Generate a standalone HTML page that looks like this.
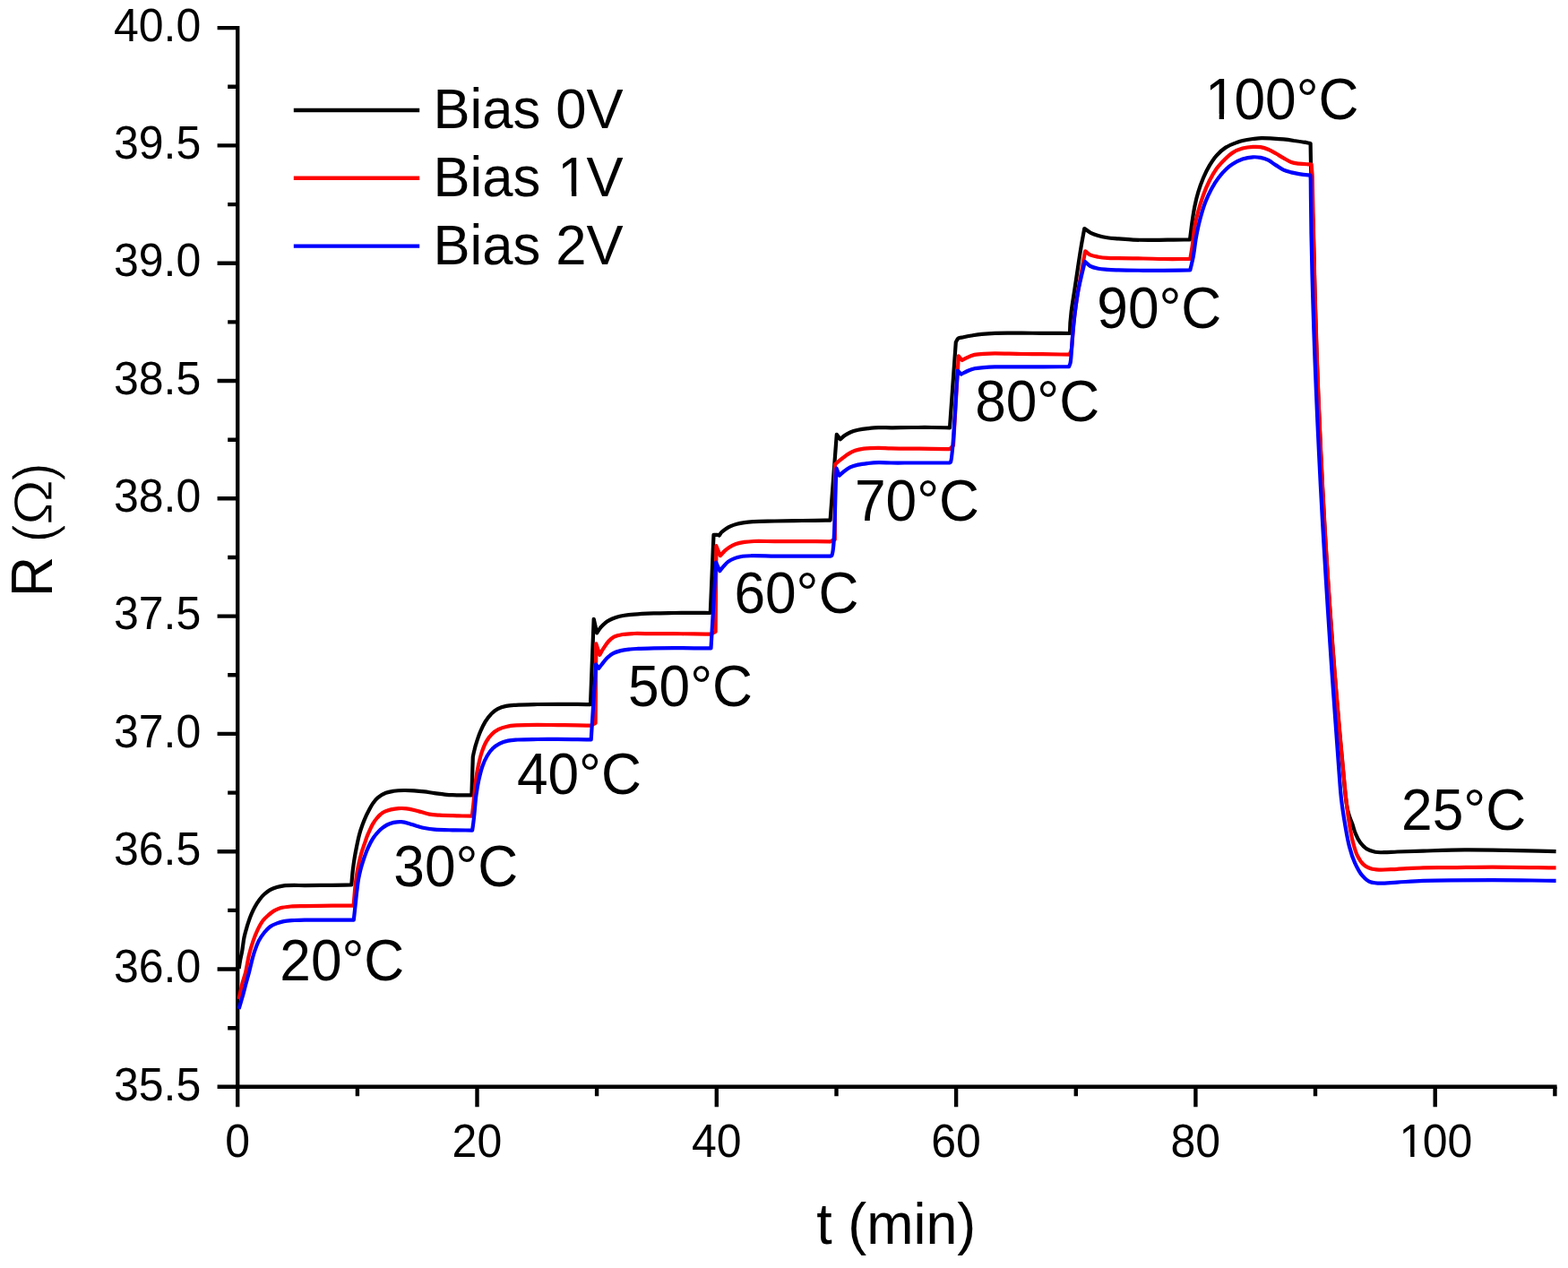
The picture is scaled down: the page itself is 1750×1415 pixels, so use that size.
<!DOCTYPE html>
<html><head><meta charset="utf-8"><title>R vs t</title>
<style>
html,body{margin:0;padding:0;background:#fff;}
body{width:1750px;height:1415px;overflow:hidden;}
svg{display:block;}
text{font-family:"Liberation Sans",Arial,Helvetica,sans-serif;fill:#000;}
</style></head>
<body>
<svg width="1750" height="1415" viewBox="0 0 1750 1415">
<rect width="1750" height="1415" fill="#fff"/>
<path d="M265.2,31.1 V1212.8 H1735.4" fill="none" stroke="#000" stroke-width="4.4" stroke-linecap="square"/>
<path d="M242.6,31.1 H265.2 M242.6,162.4 H265.2 M242.6,293.7 H265.2 M242.6,425 H265.2 M242.6,556.3 H265.2 M242.6,687.6 H265.2 M242.6,818.9 H265.2 M242.6,950.2 H265.2 M242.6,1081.5 H265.2 M242.6,1212.8 H265.2 M254.2,96.8 H265.2 M254.2,228.1 H265.2 M254.2,359.4 H265.2 M254.2,490.7 H265.2 M254.2,622 H265.2 M254.2,753.3 H265.2 M254.2,884.6 H265.2 M254.2,1015.9 H265.2 M254.2,1147.2 H265.2 M265.2,1212.8 V1235.2 M532.5,1212.8 V1235.2 M799.8,1212.8 V1235.2 M1067.1,1212.8 V1235.2 M1334.4,1212.8 V1235.2 M1601.7,1212.8 V1235.2 M398.9,1212.8 V1223.3 M666.1,1212.8 V1223.3 M933.5,1212.8 V1223.3 M1200.8,1212.8 V1223.3 M1468,1212.8 V1223.3 M1735.4,1212.8 V1223.3" fill="none" stroke="#000" stroke-width="4.4"/>
<g><text transform="translate(224.3,45.8) scale(1,1.04)" font-size="50.0" text-anchor="end">40.0</text><text transform="translate(224.3,177.1) scale(1,1.04)" font-size="50.0" text-anchor="end">39.5</text><text transform="translate(224.3,308.4) scale(1,1.04)" font-size="50.0" text-anchor="end">39.0</text><text transform="translate(224.3,439.7) scale(1,1.04)" font-size="50.0" text-anchor="end">38.5</text><text transform="translate(224.3,571) scale(1,1.04)" font-size="50.0" text-anchor="end">38.0</text><text transform="translate(224.3,702.3) scale(1,1.04)" font-size="50.0" text-anchor="end">37.5</text><text transform="translate(224.3,833.6) scale(1,1.04)" font-size="50.0" text-anchor="end">37.0</text><text transform="translate(224.3,964.9) scale(1,1.04)" font-size="50.0" text-anchor="end">36.5</text><text transform="translate(224.3,1096.2) scale(1,1.04)" font-size="50.0" text-anchor="end">36.0</text><text transform="translate(224.3,1227.5) scale(1,1.04)" font-size="50.0" text-anchor="end">35.5</text><text transform="translate(251.2,1291.2) scale(1,1.04)" font-size="50.0">0</text><text transform="translate(504.6,1291.2) scale(1,1.04)" font-size="50.0">20</text><text transform="translate(771.9,1291.2) scale(1,1.04)" font-size="50.0">40</text><text transform="translate(1039.2,1291.2) scale(1,1.04)" font-size="50.0">60</text><text transform="translate(1306.5,1291.2) scale(1,1.04)" font-size="50.0">80</text><text transform="translate(1559.9,1291.2) scale(1,1.04)" font-size="50.0"><tspan dx="1.7">1</tspan><tspan dx="-1.7">0</tspan>0</text></g>
<text transform="translate(1000.3,1387.6) scale(1,1.045)" font-size="62.8" text-anchor="middle">t (min)</text>
<g font-size="63"><text transform="translate(58.3,666.2) rotate(-90) scale(1,1.04)">R </text><text transform="translate(59.699999999999996,605.7) rotate(-90) scale(1,1.04)" style="stroke:#fff;stroke-width:1.2px">(</text><text transform="translate(58.3,586.3) rotate(-90) scale(1.096,0.975)" style="stroke:#fff;stroke-width:1.2px">&#937;</text><text transform="translate(59.699999999999996,537.1) rotate(-90) scale(1,1.04)" style="stroke:#fff;stroke-width:1.2px">)</text></g>
<g><text transform="translate(312.3,1093.5) scale(1,1.03)" font-size="62.2">20&#176;C</text><text transform="translate(439.3,988.9) scale(1,1.03)" font-size="62.2">30&#176;C</text><text transform="translate(576.9,885.8) scale(1,1.03)" font-size="62.2">40&#176;C</text><text transform="translate(701,787.5) scale(1,1.03)" font-size="62.2">50&#176;C</text><text transform="translate(819.4,684.4) scale(1,1.03)" font-size="62.2">60&#176;C</text><text transform="translate(954,580.7) scale(1,1.03)" font-size="62.2">70&#176;C</text><text transform="translate(1088.2,469.5) scale(1,1.03)" font-size="62.2">80&#176;C</text><text transform="translate(1224.3,365.8) scale(1,1.03)" font-size="62.2">90&#176;C</text><text transform="translate(1342.9,132.7) scale(1,1.03)" font-size="62.2"><tspan dx="2.1">1</tspan><tspan dx="-2.1">0</tspan>0&#176;C</text><text transform="translate(1564.1,925.5) scale(1,1.03)" font-size="62.2">25&#176;C</text></g>
<g><path d="M327.8,123 H468.2" stroke="#000" stroke-width="4.4"/><text transform="translate(483.4,142.8) scale(1,1.008)" font-size="61.6">Bias 0V</text><path d="M327.8,198.7 H468.2" stroke="#f00" stroke-width="4.4"/><text transform="translate(483.4,218.8) scale(1,1.008)" font-size="61.6">Bias <tspan dx="2">1</tspan><tspan dx="-2">V</tspan></text><path d="M327.8,274.6 H468.2" stroke="#00f" stroke-width="4.4"/><text transform="translate(483.4,294.8) scale(1,1.008)" font-size="61.6">Bias 2V</text></g>
<rect x="1564.5" y="1286.6" width="9.7" height="5.5" fill="#fff"/><rect x="1578.5" y="1286.6" width="9.3" height="5.5" fill="#fff"/><rect x="1348.6" y="127.2" width="12.1" height="6.4" fill="#fff"/><rect x="1366" y="127.2" width="11.6" height="6.4" fill="#fff"/><rect x="626" y="213.5" width="12" height="6.2" fill="#fff"/><rect x="643.3" y="213.5" width="11.5" height="6.2" fill="#fff"/>
<g transform="translate(0.4,1.0)" fill="none" stroke-width="4.2" stroke-linejoin="round" stroke-linecap="butt">
<path d="M266.2,1080 C266.7,1076.7 267.2,1073.3 267.8,1070 C268.4,1066.8 269.2,1064.1 269.8,1060.5 C270.6,1056 271.1,1049.8 272.1,1045 C273,1040.8 274,1037.2 275.2,1033.3 C276.4,1029.4 277.6,1025.4 279.1,1021.7 C280.5,1018.2 282.1,1014.7 283.8,1011.5 C285.4,1008.5 287.3,1005.5 289.2,1003 C290.9,1000.7 292.7,998.6 294.7,996.8 C296.6,995 298.6,993.4 300.9,992.1 C303.3,990.8 306.1,989.8 308.7,989 C311.2,988.2 313.5,987.7 316.4,987.3 C319.9,986.9 324.2,986.9 328.1,986.9 C332,986.9 335,987.1 339.8,987.1 C347.5,987.1 360.7,986.9 370,986.8 C377.9,986.7 384.6,986.5 391.9,986.4 C392.1,983.9 392.3,981.6 392.5,979 C392.8,976.1 393,973.1 393.4,969.8 C393.9,965.9 394.5,961.3 395.2,957 C395.9,952.7 396.7,948.4 397.6,944 C398.5,939.5 399.5,934.7 400.6,930.5 C401.6,926.6 402.8,923 404.1,919.5 C405.3,916.3 406.5,913.3 407.8,910.4 C409,907.7 410.3,905.3 411.6,902.8 C412.9,900.3 414.1,897.9 415.7,895.6 C417.3,893.3 419,891.1 421.3,889.2 C423.8,887.1 427.2,885 430.3,883.8 C433.1,882.7 435.8,882.3 438.9,881.8 C442.4,881.3 446.5,881.1 450.3,881 C454.1,880.9 457.9,881.1 461.7,881.3 C465.5,881.5 469.4,881.9 473.2,882.4 C477,882.9 480.8,883.6 484.6,884.1 C488.4,884.6 492.5,885.2 496,885.6 C499.1,885.9 501.6,886.1 504.6,886.2 C508,886.3 511.7,886.4 515.3,886.4 C518.9,886.4 522.4,886.4 526,886.4 L527.4,843.6 C527.9,841.1 528.3,838.8 529,836.2 C529.7,833.2 530.6,829.9 531.7,826.6 C532.9,822.9 534.3,818.7 535.9,815 C537.5,811.3 539.2,807.7 541.2,804.4 C543.1,801.3 545.2,798.3 547.6,795.9 C549.8,793.6 552.2,791.6 555,790.1 C557.9,788.6 561.2,787.6 564.5,786.9 C567.9,786.2 570.8,786.1 575.1,785.8 C581.5,785.4 591.3,785.2 599.2,785 C606.9,784.8 614.3,784.8 621.8,784.8 C629.3,784.8 637.7,784.8 644.4,784.9 C649.7,785 653.9,785.1 658.6,785.2 L662.3,689.8 L665.8,705.4 C667.2,703.3 668.5,700.9 670,699.1 C671.3,697.5 672.7,696.1 674.3,694.8 C675.9,693.4 677.6,692.2 679.6,691.1 C681.8,689.9 684.3,688.9 687,688 C689.9,687.1 693.2,686.4 696.5,685.8 C699.9,685.2 702.9,684.9 707.1,684.6 C713.1,684.1 721.8,683.7 729.2,683.4 C736.7,683.1 744.3,683.1 751.8,683 C759.3,682.9 767.3,682.9 774.4,682.9 C780.7,682.9 786.4,683 792.4,683 L796.1,595.9 C797.7,595.9 799.7,595.7 800.8,595.9 C801.5,596 801.8,596.4 802.3,596.6 C803.2,595.3 804,593.9 805.1,592.7 C806.3,591.5 807.8,590.5 809.3,589.5 C810.9,588.4 812.6,587.3 814.6,586.4 C816.8,585.4 819.4,584.4 822,583.7 C824.7,583 827.5,582.5 830.5,582.1 C833.8,581.6 836.9,581.4 841.1,581.1 C847.3,580.7 856.5,580.7 864.2,580.5 C871.8,580.3 879.3,580.2 886.8,580.1 C894.3,580 902.4,579.9 909.4,579.8 C915.4,579.7 920.6,579.7 926.2,579.6 L933.4,483.9 L937.5,489.2 C939,487.9 940.2,486.5 941.9,485.3 C943.8,483.9 946.1,482.6 948.5,481.5 C951.1,480.3 954.1,479.5 957.2,478.8 C960.6,478 964.5,477.5 968.2,477.1 C972.1,476.7 975.9,476.3 980,476.2 C984.5,476 988.9,476.3 994.2,476.3 C1000.9,476.3 1009.3,476 1016.8,476 C1024.3,476 1032.1,475.9 1039.4,476 C1046.3,476.1 1052.9,476.2 1059.6,476.3 L1066.4,380.8 C1067.3,379.4 1067.9,377.5 1069.2,376.6 C1070.6,375.6 1072.8,375.7 1074.9,375.2 C1077.6,374.6 1080.7,374 1083.9,373.5 C1087.4,372.9 1091.2,372.2 1095.2,371.8 C1099.8,371.3 1104.2,371 1110,370.8 C1118.3,370.5 1131.1,370.7 1140.5,370.7 C1148.6,370.7 1155,370.8 1163.1,370.8 C1172.5,370.9 1183.4,370.9 1193.6,371 C1193.7,363.1 1194.2,355.1 1195.2,347.2 C1196.2,339.2 1197.6,331.1 1198.8,323.1 C1200,315.1 1201.2,307.1 1202.4,299.1 C1203.6,291.1 1204.8,282.7 1206.1,275 C1207.3,267.8 1208.6,261 1209.9,254 C1212.4,255.7 1214.8,257.8 1217.4,259.1 C1219.9,260.4 1222.5,261.2 1225.3,262 C1228.5,262.9 1231.9,263.6 1235.5,264.2 C1239.4,264.8 1243.6,265 1248,265.4 C1253,265.8 1258.3,266.3 1264.2,266.6 C1271.1,266.9 1279.3,266.9 1286.8,266.9 C1294.3,266.9 1302.3,266.7 1309.4,266.6 C1315.8,266.5 1321.5,266.5 1327.6,266.4 C1328.5,259.6 1329.3,252.5 1330.2,246 C1331.1,240.1 1331.9,234.6 1333,229.1 C1334.1,223.7 1335.3,218.5 1336.9,213.3 C1338.5,208 1340.5,202.5 1342.6,197.5 C1344.6,192.7 1346.9,188.1 1349.4,183.9 C1351.8,179.9 1354.3,176 1357.3,172.6 C1360.3,169.2 1363.7,166 1367.5,163.6 C1371.3,161.2 1376.5,159.3 1380,158 C1382.5,157.1 1383.9,156.6 1386.4,156 C1389.7,155.2 1394.2,154.5 1397.9,154 C1401.3,153.6 1404.1,153.2 1407.6,153.1 C1411.6,153 1416.5,153.4 1420.7,153.6 C1424.6,153.8 1428.3,154 1432.1,154.4 C1435.9,154.8 1439.8,155.4 1443.6,156 C1447.4,156.5 1451.6,157.1 1455,157.7 C1457.7,158.1 1459.8,158.6 1462.2,159 L1462.6,181 C1462.9,192.3 1463.2,202.9 1463.6,215 C1464.1,229 1464.9,243.3 1465.4,260 C1466.1,280.8 1466.5,306.7 1467.1,330 C1467.8,353.3 1468.5,376.7 1469.3,400 C1470.1,423.3 1471.1,446.7 1472.1,470 C1473.1,493.3 1474.2,516.7 1475.4,540 C1476.6,563.3 1477.9,586.7 1479.3,610 C1480.7,633.3 1482.3,656.7 1483.9,680 C1485.5,703.3 1487.3,726.7 1489.1,750 C1491,773.3 1493.2,799.9 1495,820 C1496.3,835.2 1497.5,847.7 1498.7,860 C1499.7,870.6 1500.6,881.8 1501.6,889.7 C1502.3,895 1502.8,899.1 1503.7,903 C1504.4,906 1505.1,908.3 1506,911 C1506.9,913.8 1508.2,916.4 1509.2,919.3 C1510.3,922.4 1511,926 1512.4,929.2 C1513.8,932.6 1515.5,936.2 1517.6,939.1 C1519.6,941.8 1521.8,944.2 1524.5,946 C1527.3,947.8 1531,949.1 1534.4,949.8 C1537.6,950.5 1540.7,950.2 1544.3,950.2 C1548.7,950.2 1553.3,949.7 1559.1,949.5 C1567.1,949.2 1577.2,948.9 1588,948.6 C1601.6,948.2 1618.9,947.5 1634.3,947.4 C1649.7,947.3 1664.5,947.6 1680.6,947.9 C1698.3,948.2 1717.7,948.7 1736.2,949.1" stroke="#000"/>
<path d="M266.2,1113.9 C267.4,1108.3 268.6,1102.3 269.9,1097 C271.1,1092.3 272.5,1088.7 273.7,1083.9 C275.1,1078.1 276.1,1070.5 277.6,1064.4 C279,1058.9 280.5,1053.7 282.2,1048.9 C283.7,1044.7 285.1,1041 286.9,1037.2 C288.7,1033.4 290.8,1029.3 293.1,1026.3 C295,1023.8 297.2,1022 299.3,1020.1 C301.3,1018.3 303.3,1016.7 305.5,1015.4 C307.7,1014.1 309.8,1013.1 312.5,1012.3 C315.8,1011.3 320,1010.9 324.2,1010.5 C329,1010.1 333.7,1010.2 339.8,1010.1 C348.2,1009.9 360.5,1009.8 370,1009.7 C378.5,1009.6 386.1,1009.6 394.2,1009.6 C394.5,1006.1 394.8,1002.6 395.1,999 C395.4,995.1 395.7,991.1 396.2,987 C396.7,982.7 397.2,978.2 397.9,974 C398.5,970 399.3,966.3 400.1,962.5 C400.9,958.8 401.8,955 402.8,951.5 C403.8,948.1 404.9,945 406,941.8 C407.1,938.7 408.1,935.5 409.2,932.6 C410.2,930 411.3,927.6 412.4,925.2 C413.4,922.9 414.4,920.7 415.6,918.6 C416.8,916.5 418.3,914.3 419.8,912.5 C421.2,910.8 422.5,909.3 424.1,908 C425.6,906.7 427.2,905.6 429.1,904.7 C431.2,903.7 433.5,903 436,902.4 C438.7,901.8 441.7,901.3 444.6,901.1 C447.5,900.9 450.4,901 453.2,901.3 C456.1,901.6 458.9,902.3 461.7,903 C464.6,903.7 467.4,904.5 470.3,905.3 C473.2,906.1 475.8,907 478.9,907.6 C482.4,908.2 486.3,908.4 490.3,908.7 C494.8,909 500.2,909.1 504.6,909.2 C508.4,909.3 511.7,909.4 515.3,909.5 C519,909.6 522.7,909.6 526.4,909.6 C526.9,905.7 527.4,901.9 527.8,898 C528.2,894 528.6,890.3 529,886 C529.5,881.1 529.9,875.4 530.6,870.1 C531.3,864.8 532.2,859.4 533.3,854.2 C534.4,849.2 535.4,844.1 537,839.4 C538.5,834.9 540.2,830.3 542.3,826.6 C544.1,823.4 546.2,820.5 548.6,818.2 C550.8,816 553.3,814.3 556,812.9 C558.9,811.4 562.3,810.4 565.6,809.7 C569,808.9 572,808.7 576.2,808.4 C582.4,807.9 591.6,807.8 599.2,807.8 C606.8,807.8 614.3,808 621.8,808.1 C629.3,808.2 637.7,808.3 644.4,808.4 C649.8,808.5 654.1,808.6 659,808.7 L664.2,806 L664.9,717.3 L669,729.8 C670.4,727.3 671.6,724.8 673.2,722.4 C674.8,719.9 676.5,717.2 678.5,715 C680.4,712.9 682.4,711 684.9,709.7 C687.6,708.3 691,707.6 694.4,707 C698.3,706.3 702.3,706.2 707.1,706 C713.4,705.8 721.8,706.2 729.2,706.2 C736.7,706.2 744.3,706.2 751.8,706.2 C759.3,706.2 767.2,706.3 774.4,706.4 C780.9,706.5 786.8,706.6 793,706.7 L798.2,704 L799,608.2 L803.5,619.2 C805.1,617.4 806.6,615.5 808.3,613.9 C810,612.3 811.6,611 813.6,609.7 C815.8,608.3 818.3,607 821,606 C823.9,605 827.2,604.4 830.5,603.9 C833.9,603.4 836.9,603.2 841.1,603 C847.3,602.8 856.5,603.1 864.2,603.1 C871.8,603.1 879.3,603.1 886.8,603.1 C894.3,603.1 902.4,603.1 909.4,603.2 C915.4,603.2 920.6,603.3 926.2,603.4 L931.4,601 L931.6,517.1 C932.5,516.4 933.2,515.8 934.2,514.9 C935.7,513.7 937.8,512 939.7,510.5 C941.8,508.9 943.9,507 946.3,505.6 C948.7,504.1 951.2,502.8 954,501.8 C957,500.7 960.1,500.1 963.8,499.6 C968.5,499 974.8,498.8 980,498.8 C984.9,498.8 988.9,499.3 994.2,499.4 C1000.9,499.6 1009.3,499.5 1016.8,499.6 C1024.3,499.7 1032.1,499.8 1039.4,499.9 C1046.3,500 1052.9,500 1059.6,500.1 L1063.6,496 L1069.4,396.3 L1073.3,401 C1075.3,399.9 1077.2,398.8 1079.4,397.8 C1081.8,396.7 1084.5,395.6 1087.3,394.9 C1090.4,394.2 1093.9,394 1097.5,393.8 C1101.5,393.5 1104.9,393.4 1110,393.4 C1117.9,393.4 1131.1,393.9 1140.5,394 C1148.6,394.1 1155,394.1 1163.1,394.2 C1172.4,394.3 1183,394.5 1193,394.6 C1193.7,393.1 1194.6,392.3 1195.2,390 C1196.6,384.7 1196.6,371.2 1197.6,362 C1198.6,352.9 1199.7,343.7 1201,335 C1202.2,326.8 1203.7,318.5 1205,311 C1206.2,304.3 1207.4,297.7 1208.4,292 C1209.3,287.3 1210,283.5 1210.8,279.3 C1212.9,280.8 1214.2,282.4 1216.2,283.4 C1218.7,284.6 1222.2,285.1 1225.3,285.7 C1228.6,286.3 1231.9,286.6 1235.5,286.8 C1239.4,287.1 1243,287 1248,287.1 C1255.4,287.2 1266.8,287.3 1275.5,287.5 C1283.4,287.6 1290,287.9 1298.1,288 C1307.3,288.1 1318,288 1327.9,288 C1328.7,283.4 1329.4,279.4 1330.2,274.3 C1331.2,267.7 1331.8,258.7 1333,251.7 C1334.1,245.6 1335.3,240.4 1336.9,234.7 C1338.5,228.8 1340.5,222.5 1342.6,216.7 C1344.6,211.2 1346.9,205.8 1349.4,200.8 C1351.8,196 1354.3,191.5 1357.3,187.3 C1360.3,183.2 1364.3,179.1 1367.5,176 C1370.1,173.5 1372.1,171.4 1375,169.6 C1378.3,167.5 1382.5,165.7 1386.4,164.6 C1390.2,163.5 1394.3,163.1 1397.9,162.9 C1400.9,162.7 1403.6,162.7 1406.4,163.1 C1409.3,163.6 1412.2,164.5 1415,165.7 C1417.9,166.9 1420.8,168.7 1423.6,170.3 C1426.5,171.9 1429.2,173.8 1432.1,175.4 C1434.9,177 1437.8,178.9 1440.7,180 C1443.5,181 1446.3,181.3 1449.3,181.7 C1452.6,182.1 1457,182.2 1459.6,182.3 C1461.1,182.4 1462,182.4 1463.2,182.5 L1464.3,196 C1464.7,217.3 1465.1,238.2 1465.6,260 C1466.1,282.8 1466.7,306.7 1467.3,330 C1468,353.3 1468.7,376.7 1469.5,400 C1470.3,423.3 1471.3,446.7 1472.3,470 C1473.3,493.3 1474.4,516.7 1475.6,540 C1476.8,563.3 1478.1,586.7 1479.5,610 C1480.9,633.3 1482.5,656.7 1484.1,680 C1485.7,703.3 1487.5,726.7 1489.3,750 C1491.2,773.3 1493.4,799.9 1495.2,820 C1496.5,835.2 1497.7,847.7 1498.9,860 C1499.9,870.6 1500.7,879.8 1501.8,889.7 C1502.9,899.6 1504.2,910.4 1505.7,919.3 C1506.9,926.6 1508.1,933 1509.7,939.1 C1511.1,944.5 1512.4,949.7 1514.6,954 C1516.5,957.8 1518.8,961.5 1521.5,963.9 C1523.9,966 1526.6,967.3 1529.5,968.3 C1532.5,969.3 1535.5,969.4 1539.3,969.6 C1544.7,969.8 1551.9,969.1 1559.1,968.8 C1567.8,968.4 1578.2,967.6 1588,967.3 C1598,967 1607.2,967.2 1618.4,967.1 C1632.3,967 1648,966.6 1665.2,966.6 C1686.4,966.6 1712.5,967.1 1736.2,967.4" stroke="#f00"/>
<path d="M266.2,1124.8 C267.5,1120.5 268.7,1116.4 270,1112 C271.4,1107.2 272.7,1101.8 274,1097 C275.2,1092.5 276.3,1088.8 277.6,1083.9 C279.2,1077.7 281,1069.1 283,1062.9 C284.7,1057.7 286.3,1053 288.4,1048.9 C290.3,1045.3 292.5,1042.2 294.7,1039.5 C296.7,1037.1 298.6,1035 300.9,1033.3 C303.2,1031.6 306.1,1030.4 308.7,1029.4 C311.2,1028.4 313.5,1027.7 316.4,1027.1 C319.9,1026.4 324.2,1026.3 328.1,1026 C332,1025.8 335.4,1025.7 339.8,1025.6 C345.6,1025.5 352.4,1025.6 360,1025.6 C369.9,1025.6 382.9,1025.6 394.4,1025.6 C395,1020.1 395.6,1014.4 396.2,1009 C396.8,1003.9 397.2,998.9 397.8,994 C398.4,989.4 398.9,984.8 399.6,980.5 C400.3,976.6 401.1,973.1 402,969.5 C402.9,965.9 404,962.5 405.1,959 C406.3,955.5 407.6,951.9 408.9,948.6 C410.1,945.6 411.4,942.7 412.8,940 C414.1,937.6 415.3,935.4 416.8,933.3 C418.2,931.3 419.8,929.3 421.4,927.6 C422.9,926 424.4,924.5 426.1,923.2 C427.8,921.8 429.6,920.5 431.6,919.5 C433.8,918.4 436.3,917.5 438.9,916.9 C441.6,916.3 444.7,915.9 447.5,916.1 C450.4,916.3 453.2,917.1 456,917.9 C458.9,918.7 461.7,919.8 464.6,920.7 C467.5,921.5 470.1,922.4 473.2,923 C476.7,923.7 480.3,924.3 484.6,924.7 C490.3,925.2 497.8,925.2 504.6,925.3 C511.8,925.5 519.3,925.5 526.7,925.6 C527.1,923.1 527.4,920.8 527.8,918 C528.2,914.7 528.6,911.4 529,907.2 C529.6,901.3 530.2,892.5 531.1,886 C531.9,880.3 532.7,875.4 533.8,870.1 C535,864.8 536.3,859 538,854.2 C539.5,849.9 541.2,846 543.3,842.5 C545.2,839.3 547.3,836.4 549.7,834.1 C551.9,831.9 554.4,830.2 557.1,828.8 C560,827.3 563.3,826.3 566.6,825.6 C570,824.9 573,824.8 577.2,824.5 C583.2,824.1 591.8,824.1 599.2,824 C606.7,823.9 614.3,823.9 621.8,823.9 C629.3,823.9 637.6,824.1 644.4,824.2 C649.9,824.3 654.3,824.3 659.3,824.4 L664.7,740.4 L667.9,744.7 C669.3,742.9 670.6,741.2 672.1,739.4 C673.8,737.4 675.4,734.9 677.4,733 C679.3,731.2 681.4,729.5 683.8,728.2 C686.3,726.8 689.3,725.9 692.3,725.1 C695.6,724.3 699.5,723.9 702.9,723.5 C706,723.2 708.5,723.1 712,722.9 C716.8,722.7 723.1,722.4 729.2,722.3 C736.2,722.1 744.3,722.1 751.8,722.1 C759.3,722.1 767.2,722.2 774.4,722.3 C780.9,722.3 786.9,722.4 793.1,722.4 L798.7,626.6 L803,636.2 C804.4,634.4 805.7,632.6 807.2,630.9 C808.8,629.1 810.4,627.1 812.5,625.6 C814.7,624 817.3,622.9 819.9,621.9 C822.6,620.9 825.4,620.3 828.4,619.8 C831.7,619.3 834.7,619.3 839,619.2 C845.6,619.1 856,619.5 864.2,619.6 C871.9,619.7 879.3,619.7 886.8,619.7 C894.3,619.7 902.4,619.7 909.4,619.7 C915.4,619.7 920.5,619.6 926,619.6 C926.6,619.5 927.2,619.8 927.7,619.2 C931.7,614.5 931.3,554.1 933.1,521.5 L936.4,529.7 C938.2,528.1 939.9,526.3 941.9,524.8 C943.9,523.2 946.1,521.6 948.5,520.4 C951.1,519.1 954.1,518.3 957.2,517.6 C960.6,516.8 964.5,516.4 968.2,516 C972.1,515.6 975.9,515.3 980,515.2 C984.5,515.1 988.9,515.4 994.2,515.5 C1000.9,515.6 1009.3,515.5 1016.8,515.5 C1024.3,515.5 1032.1,515.5 1039.4,515.5 C1046.3,515.5 1052.9,515.4 1059.6,515.3 C1059.9,515 1060.3,515.1 1060.6,514.5 C1063.5,508.9 1065.8,446.5 1068.4,412.5 L1072.3,416.6 C1074.7,415.4 1076.9,414.1 1079.4,413 C1081.9,411.9 1084.5,410.8 1087.3,410.2 C1090.4,409.5 1093.9,409.4 1097.5,409.1 C1101.5,408.8 1104.9,408.6 1110,408.4 C1117.9,408.2 1131.1,408.3 1140.5,408.3 C1148.6,408.3 1155.1,408.3 1163.1,408.3 C1172.3,408.3 1182.8,408.2 1192.6,408.2 C1193.1,406.8 1193.7,406.1 1194.2,404 C1195.3,399 1195.6,386.4 1196.4,377.2 C1197.3,367.5 1198.2,356.6 1199.4,347.2 C1200.5,338.7 1201.6,330.5 1203,323.1 C1204.2,316.6 1205.7,310.7 1207,305.1 C1208.2,300.1 1209.3,295.6 1210.4,290.9 C1212.3,292.5 1213.9,294.5 1216.2,295.8 C1218.8,297.2 1222.1,298 1225.3,298.7 C1228.6,299.4 1231.9,299.5 1235.5,299.8 C1239.5,300.1 1243,300.2 1248,300.4 C1255.4,300.6 1266.8,300.7 1275.5,300.8 C1283.4,300.9 1290,300.9 1298.1,300.8 C1307.3,300.7 1318,300.5 1327.9,300.4 C1329,295.5 1330.3,291.1 1331.3,285.6 C1332.6,278.9 1333.3,270.3 1334.7,263 C1336,256 1337.4,249.2 1339.2,242.7 C1340.9,236.5 1342.7,230.3 1344.9,224.6 C1346.9,219.4 1349.1,214.5 1351.6,209.9 C1354,205.5 1356.6,201.3 1359.5,197.5 C1362.3,193.8 1365.7,190 1368.6,187.3 C1370.8,185.2 1372.5,183.9 1375,182.3 C1378.2,180.3 1382.5,177.9 1386.4,176.6 C1390.1,175.3 1394.3,174.5 1397.9,174.3 C1400.9,174.1 1403.6,174.4 1406.4,174.9 C1409.3,175.5 1412.2,176.4 1415,177.7 C1418,179.1 1420.7,181.6 1423.6,183.4 C1426.4,185.2 1429.2,187.3 1432.1,188.6 C1434.9,189.9 1437.8,190.6 1440.7,191.4 C1443.5,192.1 1446.3,192.6 1449.3,193.1 C1452.6,193.6 1457.3,194.1 1459.6,194.3 C1460.7,194.4 1461.3,194.4 1462.1,194.5 L1462.4,200 C1462.6,220 1462.7,239.2 1463.1,260 C1463.5,282.4 1464.1,306.7 1464.8,330 C1465.5,353.3 1466.2,376.7 1467.1,400 C1468,423.3 1469,446.7 1470,470 C1471.1,493.3 1472.2,516.7 1473.4,540 C1474.6,563.3 1475.9,586.7 1477.3,610 C1478.7,633.3 1480.1,656.7 1481.6,680 C1483.1,703.3 1484.6,726.7 1486.2,750 C1487.8,773.3 1489.8,799.9 1491.2,820 C1492.3,835.2 1493.2,847.7 1494.1,860 C1494.9,870.6 1495.4,879.8 1496.5,889.7 C1497.6,899.6 1499.2,909.9 1500.8,919.3 C1502.3,928 1503.7,936.6 1505.7,944.1 C1507.4,950.6 1509.3,956.5 1511.7,961.9 C1514,966.9 1516.6,972.1 1519.6,975.7 C1522,978.6 1524.5,981.1 1527.5,982.6 C1530.4,984.1 1533.4,984.3 1537.4,984.6 C1543.2,985 1551.4,984 1559.1,983.6 C1568,983.1 1576,982.3 1588,981.9 C1607.5,981.2 1640,981.1 1665.2,981.1 C1689.4,981.1 1712.5,981.6 1736.2,981.8" stroke="#00f"/>
</g>
</svg>
</body></html>
